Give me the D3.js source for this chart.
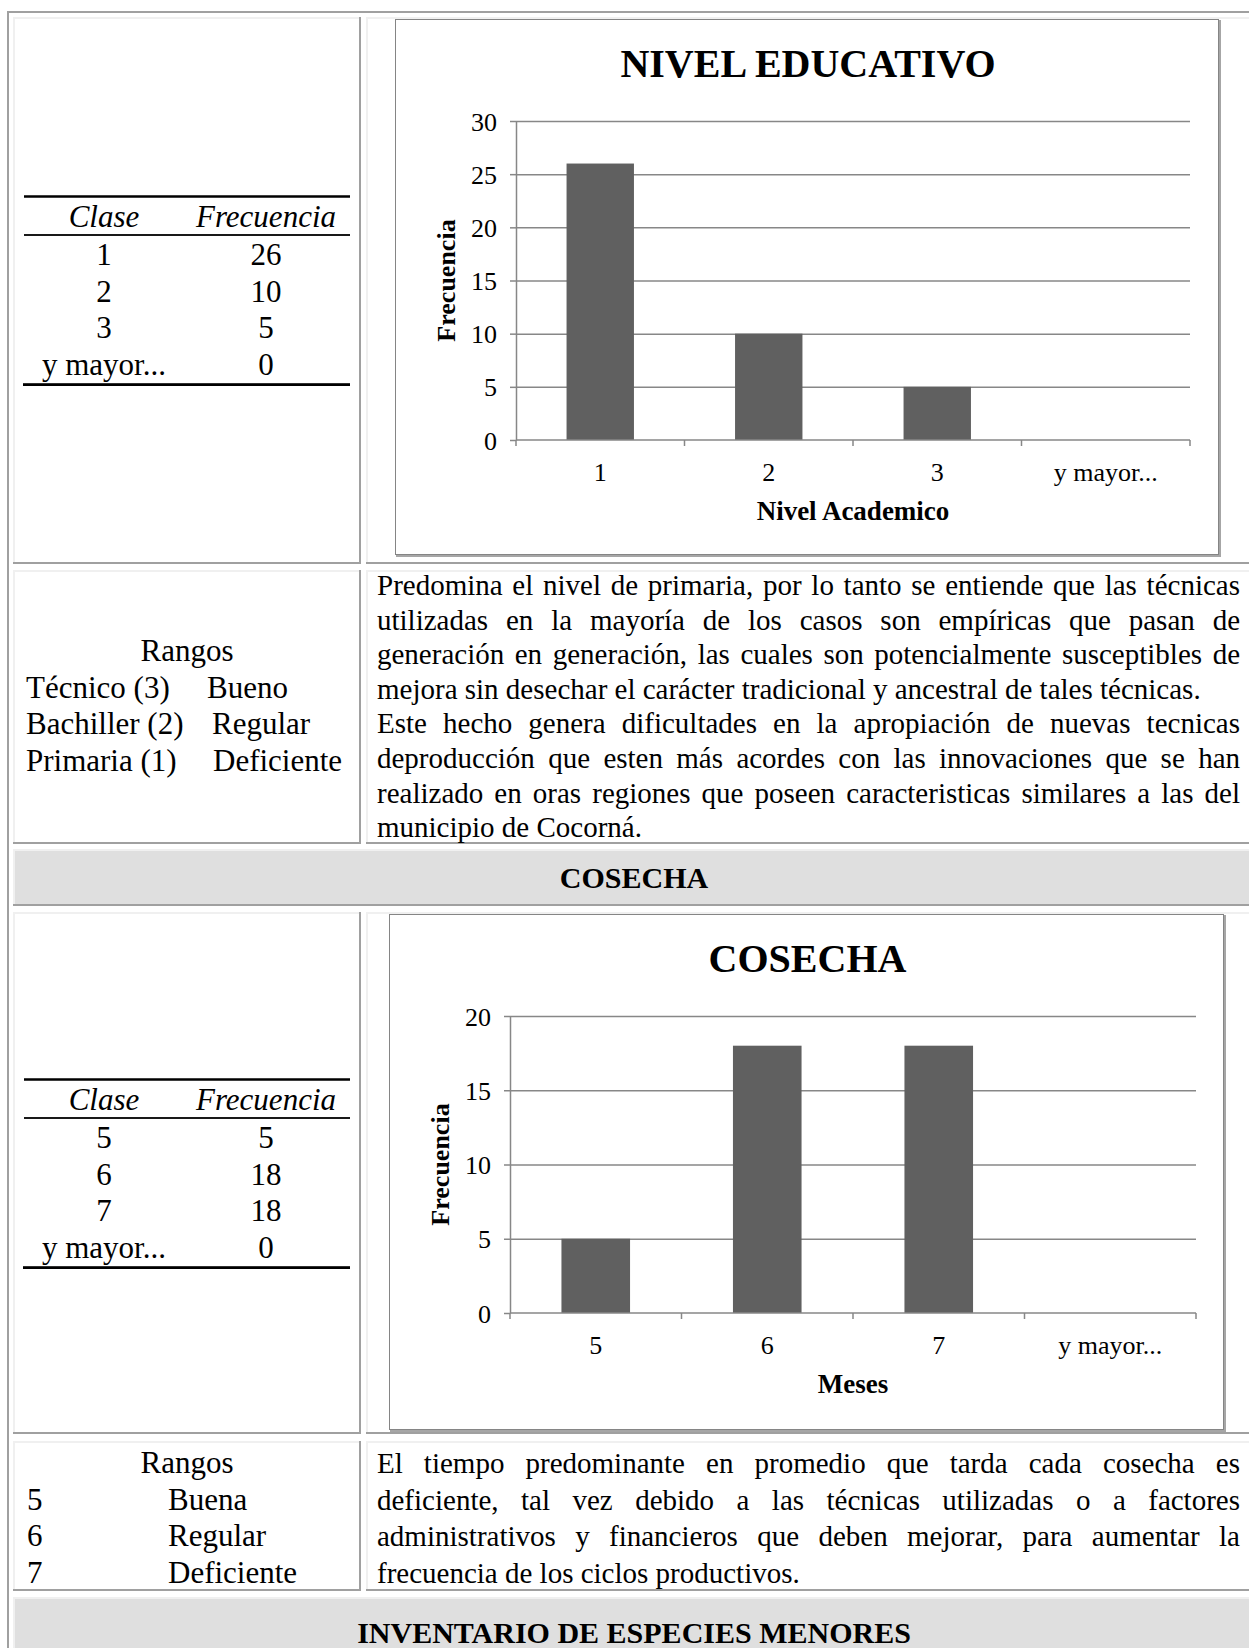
<!DOCTYPE html>
<html>
<head>
<meta charset="utf-8">
<script src="https://cdn.jsdelivr.net/npm/d3@7"></script>
<style>
  html, body { margin: 0; padding: 0; background: #fff; overflow: hidden; }
  body { width: 1249px; height: 1648px; }
  svg { display: block; }
</style>
</head>
<body>
<script>
// ---- Datos: nivel educativo ----
const nivelClases = ["1", "2", "3", "y mayor..."];
const nivelFrecuencias = [26, 10, 5, 0];
const nivelTicks = [0, 5, 10, 15, 20, 25, 30];

// ---- Datos: cosecha (meses) ----
const cosechaClases = ["5", "6", "7", "y mayor..."];
const cosechaFrecuencias = [5, 18, 18, 0];
const cosechaTicks = [0, 5, 10, 15, 20];

// ---- Rangos ----
const rangosNivel = [["Técnico (3)", "Bueno"], ["Bachiller (2)", "Regular"], ["Primaria (1)", "Deficiente"]];
const rangosCosecha = [["5", "Buena"], ["6", "Regular"], ["7", "Deficiente"]];

// ---- Textos (cada renglón; el último de cada párrafo va sin justificar) ----
const parrafosNivel = [
  ["Predomina el nivel de primaria, por lo tanto se entiende que las técnicas",
   "utilizadas en la mayoría de los casos son empíricas que pasan de",
   "generación en generación, las cuales son potencialmente susceptibles de",
   "mejora sin desechar el carácter tradicional y ancestral de tales técnicas."],
  ["Este hecho genera dificultades en la apropiación de nuevas tecnicas",
   "deproducción que esten más acordes con las innovaciones que se han",
   "realizado en oras regiones que poseen caracteristicas similares a las del",
   "municipio de Cocorná."]
];
const parrafosCosecha = [
  ["El tiempo predominante en promedio que tarda cada cosecha es",
   "deficiente, tal vez debido a las técnicas utilizadas o a factores",
   "administrativos y financieros que deben mejorar, para aumentar la",
   "frecuencia de los ciclos productivos."]
];

const W = 1249, H = 1648;
const FONT = "'Liberation Serif','Times New Roman',Times,serif";

const svg = d3.select("body").append("svg")
  .attr("width", W).attr("height", H)
  .attr("font-family", FONT)
  .style("background", "#fff");

// ---- Marco exterior de la tabla ----
svg.append("rect").attr("x", 7).attr("y", 11).attr("width", W).attr("height", 2).attr("fill", "#a0a0a0");
svg.append("rect").attr("x", 7).attr("y", 11).attr("width", 2).attr("height", H).attr("fill", "#a0a0a0");

// Celda con borde en relieve (claro arriba/izquierda, oscuro abajo/derecha)
function cell(x0, y0, x1, y1, fill) {
  const g = svg.append("g");
  if (fill) g.append("rect").attr("x", x0).attr("y", y0).attr("width", x1 - x0).attr("height", y1 - y0).attr("fill", fill);
  g.append("rect").attr("x", x0).attr("y", y0).attr("width", x1 - x0).attr("height", 2).attr("fill", "#f0f0f0");
  g.append("rect").attr("x", x0).attr("y", y0).attr("width", 2).attr("height", y1 - y0).attr("fill", "#f0f0f0");
  g.append("rect").attr("x", x0).attr("y", y1 - 2).attr("width", x1 - x0).attr("height", 2).attr("fill", "#a0a0a0");
  g.append("rect").attr("x", x1 - 2).attr("y", y0).attr("width", 2).attr("height", y1 - y0).attr("fill", "#a0a0a0");
}

const colA = [13, 361], colB = [366, 1257];
const filas = { r1: [17, 564], r2: [570, 844], h1: [849, 906], r3: [912, 1434], r4: [1441, 1591], h2: [1597, 1665] };

cell(colA[0], filas.r1[0], colA[1], filas.r1[1]);
cell(colB[0], filas.r1[0], colB[1], filas.r1[1]);
cell(colA[0], filas.r2[0], colA[1], filas.r2[1]);
cell(colB[0], filas.r2[0], colB[1], filas.r2[1]);
cell(colA[0], filas.h1[0], colB[1], filas.h1[1], "#dfdfdf");
cell(colA[0], filas.r3[0], colA[1], filas.r3[1]);
cell(colB[0], filas.r3[0], colB[1], filas.r3[1]);
cell(colA[0], filas.r4[0], colA[1], filas.r4[1]);
cell(colB[0], filas.r4[0], colB[1], filas.r4[1]);
cell(colA[0], filas.h2[0], colB[1], filas.h2[1], "#dfdfdf");

// ---- Encabezados de sección ----
function encabezado(texto, y) {
  svg.append("text").attr("x", 634).attr("y", y).attr("text-anchor", "middle")
    .attr("font-size", 30).attr("font-weight", "bold").text(texto);
}
encabezado("COSECHA", 888);
encabezado("INVENTARIO DE ESPECIES MENORES", 1643);

// ---- Tabla de frecuencias ----
function tablaFrecuencias(yTop, clases, frecuencias) {
  const g = svg.append("g").attr("font-size", 31);
  const cx1 = 104, cx2 = 266;
  g.append("rect").attr("x", 24).attr("y", yTop - 1.25).attr("width", 326).attr("height", 2.5).attr("fill", "#000");
  g.append("text").attr("x", cx1).attr("y", yTop + 30.5).attr("text-anchor", "middle").attr("font-style", "italic").text("Clase");
  g.append("text").attr("x", cx2).attr("y", yTop + 30.5).attr("text-anchor", "middle").attr("font-style", "italic").text("Frecuencia");
  g.append("rect").attr("x", 24).attr("y", yTop + 37.6).attr("width", 326).attr("height", 1.8).attr("fill", "#000");
  clases.forEach((c, i) => {
    const y = yTop + 68.5 + i * 36.7;
    g.append("text").attr("x", cx1).attr("y", y).attr("text-anchor", "middle").text(c);
    g.append("text").attr("x", cx2).attr("y", y).attr("text-anchor", "middle").text(frecuencias[i]);
  });
  g.append("rect").attr("x", 23).attr("y", yTop + 186.7).attr("width", 327).attr("height", 2.8).attr("fill", "#000");
}
tablaFrecuencias(196.5, nivelClases, nivelFrecuencias);
tablaFrecuencias(1079.5, cosechaClases, cosechaFrecuencias);

// ---- Rangos ----
function rangos(yFirst, dy, filasR, xIzq, xDer) {
  const g = svg.append("g").attr("font-size", 31);
  g.append("text").attr("x", 187).attr("y", yFirst).attr("text-anchor", "middle").text("Rangos");
  filasR.forEach((r, i) => {
    const y = yFirst + (i + 1) * dy;
    g.append("text").attr("x", xIzq).attr("y", y).text(r[0]);
    g.append("text").attr("x", xDer[i]).attr("y", y).text(r[1]);
  });
}
rangos(661, 36.5, rangosNivel, 26, [207, 212, 213]);
rangos(1473, 36.5, rangosCosecha, 27, [168, 168, 168]);

// ---- Párrafos justificados ----
function medir(str, size) {
  const t = svg.append("text").attr("font-size", size).text(str);
  const w = t.node().getComputedTextLength();
  t.remove();
  return w;
}
function parrafos(bloques, x0, x1, yFirst, dy, size) {
  const g = svg.append("g").attr("font-size", size);
  let k = 0;
  bloques.forEach(lineas => {
    lineas.forEach((ln, i) => {
      const y = yFirst + k * dy;
      k++;
      if (i === lineas.length - 1) {
        g.append("text").attr("x", x0).attr("y", y).text(ln);
        return;
      }
      const palabras = ln.split(" ");
      const anchos = palabras.map(p => medir(p, size));
      const hueco = (x1 - x0 - d3.sum(anchos)) / (palabras.length - 1);
      const t = g.append("text").attr("y", y);
      let x = x0;
      palabras.forEach((p, j) => {
        t.append("tspan").attr("x", x).text(p);
        x += anchos[j] + hueco;
      });
    });
  });
}
parrafos(parrafosNivel, 377, 1240, 595, 34.6, 29);
parrafos(parrafosCosecha, 377, 1240, 1473, 36.5, 29);

// ---- Gráfico de barras (histograma de frecuencias) ----
function graficoBarras(cfg) {
  const { caja, area, clases, valores, ticks, titulo, tituloX } = cfg;
  const g = svg.append("g");
  // marco del gráfico con sombra
  g.append("rect").attr("x", caja.x0 + 0.5).attr("y", caja.y0 + 0.5)
    .attr("width", caja.x1 - caja.x0 - 3).attr("height", caja.y1 - caja.y0 - 3)
    .attr("fill", "#fff").attr("stroke", "#858585").attr("stroke-width", 1);
  g.append("rect").attr("x", caja.x1 - 2).attr("y", caja.y0 + 1).attr("width", 2).attr("height", caja.y1 - caja.y0 - 1).attr("fill", "#a6a6a6");
  g.append("rect").attr("x", caja.x0 + 1).attr("y", caja.y1 - 2).attr("width", caja.x1 - caja.x0 - 1).attr("height", 2).attr("fill", "#a6a6a6");

  const x = d3.scaleBand().domain(clases).range([area.x0, area.x1]).paddingInner(0.6).paddingOuter(0.3);
  const y = d3.scaleLinear().domain([0, d3.max(ticks)]).range([area.yBase, area.yTop]);
  const gris = "#878787";

  // líneas de cuadrícula
  const grid = g.append("g").attr("transform", `translate(${area.x0},0)`)
    .call(d3.axisLeft(y).tickValues(ticks.filter(t => t > 0)).tickSize(-(area.x1 - area.x0)).tickFormat(""));
  grid.select(".domain").remove();
  grid.selectAll("line").attr("stroke", gris).attr("stroke-width", 1.5);

  // eje vertical con etiquetas
  const ey = g.append("g").attr("transform", `translate(${area.x0},0)`)
    .call(d3.axisLeft(y).tickValues(ticks).tickSizeInner(6).tickSizeOuter(0).tickPadding(13));
  ey.select(".domain").attr("stroke", gris).attr("stroke-width", 1.5);
  ey.selectAll("line").attr("stroke", gris).attr("stroke-width", 1.5);
  ey.selectAll("text").attr("font-family", FONT).attr("font-size", 26).attr("fill", "#000").attr("dy", "0.35em");

  // barras
  g.append("g").selectAll("rect").data(valores).join("rect")
    .attr("x", (d, i) => x(clases[i]))
    .attr("y", d => y(d))
    .attr("width", x.bandwidth())
    .attr("height", d => y(0) - y(d))
    .attr("fill", "#606060");

  // eje horizontal: marcas en los límites de cada clase, etiquetas centradas
  const ex = g.append("g").attr("transform", `translate(0,${area.yBase})`)
    .call(d3.axisBottom(x).tickSize(0).tickPadding(0));
  ex.select(".domain").attr("d", `M${area.x0},0H${area.x1}`).attr("stroke", gris).attr("stroke-width", 1.5);
  ex.selectAll("text").attr("font-family", FONT).attr("font-size", 26).attr("fill", "#000").attr("y", 41).attr("dy", 0);
  ex.selectAll(".limite").data(d3.range(clases.length + 1)).join("line")
    .attr("class", "limite")
    .attr("x1", i => area.x0 + i * x.step()).attr("x2", i => area.x0 + i * x.step())
    .attr("y1", 0).attr("y2", 6).attr("stroke", gris).attr("stroke-width", 1.5);

  // títulos
  const cx = (caja.x0 + caja.x1) / 2;
  g.append("text").attr("x", cx).attr("y", caja.y0 + 58).attr("text-anchor", "middle")
    .attr("font-size", 40).attr("font-weight", "bold").text(titulo);
  g.append("text").attr("x", (area.x0 + area.x1) / 2).attr("y", area.yBase + 80).attr("text-anchor", "middle")
    .attr("font-size", 27).attr("font-weight", "bold").text(tituloX);
  const my = (area.yBase + area.yTop) / 2;
  g.append("text").attr("transform", `translate(${area.x0 - 61},${my}) rotate(-90)`)
    .attr("text-anchor", "middle").attr("font-size", 26).attr("font-weight", "bold").text("Frecuencia");
}

graficoBarras({
  caja: { x0: 395, y0: 19, x1: 1221, y1: 557 },
  area: { x0: 516, x1: 1190, yBase: 440, yTop: 121 },
  clases: nivelClases, valores: nivelFrecuencias, ticks: nivelTicks,
  titulo: "NIVEL EDUCATIVO", tituloX: "Nivel Academico"
});

graficoBarras({
  caja: { x0: 389, y0: 914, x1: 1226, y1: 1432 },
  area: { x0: 510, x1: 1196, yBase: 1313, yTop: 1016 },
  clases: cosechaClases, valores: cosechaFrecuencias, ticks: cosechaTicks,
  titulo: "COSECHA", tituloX: "Meses"
});
</script>
</body>
</html>
